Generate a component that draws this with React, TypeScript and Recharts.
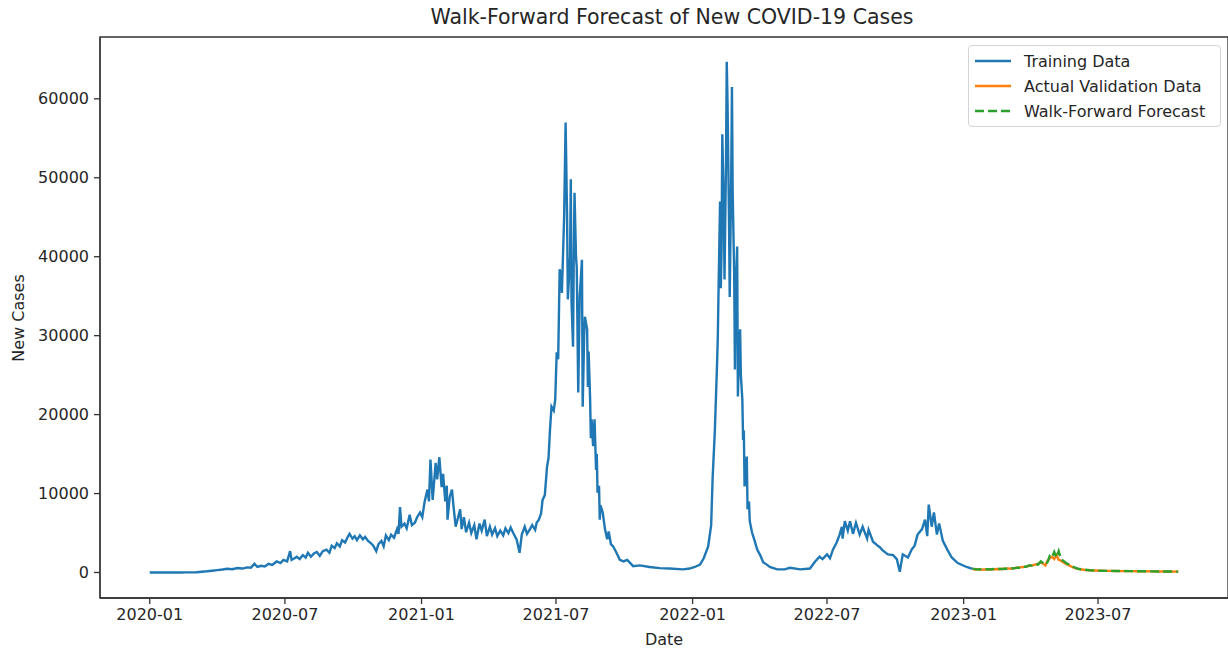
import React from 'react';
import { LineChart, Line, XAxis, YAxis, ReferenceArea } from 'recharts';

const START = Date.UTC(2020, 0, 1);
const DAY = 86400000;

// days since 2020-01-01
const trainDays = [
  0, 7, 14, 21, 28, 35, 42, 49, 56, 63, 70, 77, 84, 91, 98, 104, 111, 118, 125, 131,
  136, 141, 145, 150, 155, 160, 165, 171, 176, 180, 185, 189, 191, 195, 198, 202, 206, 210, 213, 217,
  221, 225, 229, 233, 238, 242, 245, 249, 252, 256, 259, 263, 266, 269, 273, 276, 279, 283, 287, 290,
  294, 298, 301, 305, 308, 312, 315, 318, 322, 325, 329, 333, 335, 337, 339, 343, 346, 350, 353, 357,
  360, 364, 367, 370, 374, 376, 378, 381, 385, 387, 390, 393, 395, 398, 400, 401, 404, 407, 409, 412,
  415, 418, 420, 423, 426, 430, 433, 437, 440, 444, 447, 451, 454, 458, 461, 465, 468, 472, 476, 479,
  483, 486, 490, 494, 498, 501, 505, 508, 512, 515, 519, 521, 524, 527, 529, 532, 535, 537, 539, 541,
  544, 546, 548, 550, 552, 554, 555, 558, 560, 562, 563, 566, 567, 568, 570, 571, 572, 574, 575, 577,
  579, 582, 583, 585, 586, 589, 590, 591, 593, 594, 595, 597, 599, 601, 602, 603, 605, 606, 607, 610,
  613, 616, 618, 621, 624, 628, 633, 638, 643, 651, 660, 673, 687, 700, 718, 727, 734, 741, 746, 752,
  756, 758, 761, 764, 765, 766, 768, 769, 770, 771, 773, 774, 776, 777, 778, 780, 781, 783, 784, 785,
  787, 788, 789, 791, 792, 793, 795, 796, 798, 799, 800, 801, 803, 804, 805, 807, 808, 811, 814, 818,
  822, 826, 831, 835, 845, 855, 862, 876, 889, 896, 902, 906, 912, 916, 920, 925, 929, 932, 933, 936,
  940, 943, 947, 951, 956, 960, 966, 968, 974, 979, 983, 987, 994, 1001, 1006, 1010, 1014, 1021, 1026, 1030,
  1034, 1040, 1044, 1047, 1049, 1053, 1056, 1060, 1063, 1068, 1074, 1080, 1088, 1100, 1108,
];
const trainCases = [
  0, 0, 0, 0, 0, 0, 5, 10, 20, 40, 100, 150, 220, 300, 380, 470, 420, 560, 500, 650,
  600, 1100, 700, 850, 750, 1100, 950, 1400, 1200, 1600, 1400, 2700, 1600, 1800, 2000, 1700, 2200, 1900, 2500, 2000,
  2400, 2600, 2100, 2700, 2900, 2500, 3400, 3100, 3700, 3300, 4100, 3800, 4400, 4900, 4300, 4600, 4100, 4700, 4200, 4500,
  4000, 3700, 3400, 2700, 3600, 4000, 3300, 4700, 4100, 4800, 4400, 5500, 4900, 8300, 5800, 6200, 5600, 7300, 6000, 6300,
  7000, 7600, 7000, 8900, 10500, 9000, 14300, 9200, 13900, 11800, 14600, 10800, 12500, 9000, 11000, 6700, 9600, 10500, 8400, 5800,
  6900, 8000, 5500, 7000, 5100, 6300, 5000, 6000, 4200, 6200, 5300, 6700, 4600, 5800, 4800, 5600, 4600, 5300, 4700, 5600,
  5000, 5700, 4900, 4200, 2500, 4800, 5800, 4900, 5500, 6000, 5400, 6300, 6700, 7500, 9200, 9800, 13400, 14500, 18100, 21000,
  20500, 21900, 27900, 27000, 38400, 37500, 35400, 45000, 57000, 45000, 34600, 40000, 49800, 34200, 28600, 40000, 48100, 40000, 38700, 22800,
  35000, 39600, 21000, 30000, 32400, 30800, 23500, 28000, 21900, 17000, 19400, 16000, 19400, 13000, 15000, 10100, 11000, 6700, 8500, 7600,
  5500, 4200, 5200, 3600, 3300, 2600, 1600, 1400, 1600, 800, 900, 700, 550, 500, 400, 500, 700, 1000, 1800, 3300,
  6000, 12000, 18000, 26600, 30000, 36000, 47000, 36000, 40900, 55500, 46000, 37100, 52000, 64700, 59900, 45000, 34900, 50000, 61500, 48100,
  38000, 25700, 35000, 41300, 22300, 26000, 30800, 25000, 21900, 16800, 18000, 10900, 13000, 14700, 8000, 9000, 6500, 5100, 4200, 2900,
  2200, 1300, 1000, 700, 400, 400, 600, 400, 500, 1400, 2000, 1700, 2300, 1800, 2900, 3800, 4800, 5800, 4300, 6500,
  5300, 6500, 4900, 6300, 4800, 5800, 4300, 5400, 3900, 3500, 3200, 2800, 2300, 2200, 1700, 100, 2300, 1900, 2900, 3400,
  4800, 5500, 6700, 4600, 8600, 5800, 7600, 4800, 6200, 4000, 2900, 1900, 1200, 700, 450,
];

const validDays = [
  1108, 1112, 1116, 1120, 1124, 1128, 1132, 1136, 1140, 1144, 1148, 1152, 1156, 1160, 1164, 1168, 1172, 1176, 1180, 1184,
  1188, 1192, 1196, 1200, 1203, 1206, 1209, 1212, 1215, 1218, 1221, 1224, 1227, 1230, 1234, 1238, 1242, 1246, 1250, 1255,
  1260, 1266, 1272, 1280, 1290, 1300, 1310, 1320, 1330, 1340, 1350, 1360, 1370, 1385,
];
const validActual = [
  450, 380, 420, 350, 400, 380, 420, 400, 450, 420, 480, 450, 520, 480, 550, 600, 650, 700, 750, 850,
  900, 1000, 1100, 1300, 1100, 900, 1500, 1800, 2000, 1700, 2200, 1600, 1500, 1300, 1100, 900, 700, 550, 450, 380,
  320, 280, 250, 220, 200, 190, 180, 170, 160, 150, 140, 130, 120, 110,
];
const forecastCases = [
  500, 420, 380, 430, 360, 420, 390, 440, 410, 470, 430, 500, 470, 540, 520, 620, 600, 740, 720, 900,
  880, 1050, 1000, 1400, 1200, 1000, 1300, 2100, 1900, 2600, 1900, 2700, 1700, 1500, 1200, 1000, 800, 600, 480, 400,
  340, 290, 260, 230, 210, 195, 185, 175, 165, 155, 145, 135, 125, 115,
];

const xTickLabels = ['2020-01', '2020-07', '2021-01', '2021-07', '2022-01', '2022-07', '2023-01', '2023-07'];
const yTicks = [0, 10000, 20000, 30000, 40000, 50000, 60000];

const dayOf = (label: string) => {
  const [y, m] = label.split('-').map(Number);
  return (Date.UTC(y, m - 1, 1) - START) / DAY;
};
const xTicks = xTickLabels.map(dayOf);
const labelFor = (d: number) => xTickLabels[xTicks.indexOf(d)] ?? '';

const trainData = trainDays.map((day, i) => ({ day, cases: trainCases[i] }));
const validData = validDays.map((day, i) => ({ day, actual: validActual[i], forecast: forecastCases[i] }));

const X_DOMAIN: [number, number] = [-67, 1452];
const Y_DOMAIN: [number, number] = [-3230, 67830];

const BLUE = '#1f77b4';
const ORANGE = '#ff7f0e';
const GREEN = '#2ca02c';
const FONT = '"DejaVu Sans", Verdana, sans-serif';
const INK = '#262626';

const legendItems = [
  { name: 'Training Data', color: BLUE, dash: undefined as string | undefined },
  { name: 'Actual Validation Data', color: ORANGE, dash: undefined },
  { name: 'Walk-Forward Forecast', color: GREEN, dash: '9 4' },
];

const tickStyle = { fontSize: 16, fill: INK, fontFamily: FONT };
const spine = { stroke: '#333', strokeWidth: 1.3 };

export default function App() {
  return (
    <div style={{ position: 'absolute', left: 0, top: 0, width: 1228, height: 649, background: '#fff', fontFamily: FONT, color: INK, overflow: 'hidden' }}>
      <div style={{ position: 'absolute', left: 100, width: 1144, top: 5, textAlign: 'center', fontSize: 20.5 }}>
        Walk-Forward Forecast of New COVID-19 Cases
      </div>
      <div style={{ position: 'absolute', left: 100, width: 1128, top: 632, height: 16, lineHeight: '16px', textAlign: 'center', fontSize: 16 }}>
        Date
      </div>
      <div
        style={{
          position: 'absolute', left: 18, top: 318, fontSize: 16, whiteSpace: 'nowrap',
          transform: 'translate(-50%, -50%) rotate(-90deg)',
        }}
      >
        New Cases
      </div>

      <LineChart width={1228} height={649} margin={{ top: 37, right: 0, left: 0, bottom: 0 }}>
        <XAxis
          dataKey="day"
          type="number"
          domain={X_DOMAIN}
          allowDataOverflow
          ticks={xTicks}
          tickFormatter={labelFor}
          height={51}
          tick={tickStyle}
          tickSize={6}
          tickMargin={5}
          axisLine={spine}
          tickLine={spine}
        />
        <YAxis
          type="number"
          domain={Y_DOMAIN}
          allowDataOverflow
          ticks={yTicks}
          width={100}
          tick={tickStyle}
          tickSize={6}
          tickMargin={5}
          axisLine={spine}
          tickLine={spine}
        />
        <ReferenceArea
          x1={X_DOMAIN[0]}
          x2={X_DOMAIN[1]}
          y1={Y_DOMAIN[0]}
          y2={Y_DOMAIN[1]}
          fill="none"
          fillOpacity={0}
          stroke="#333"
          strokeWidth={1.3}
          ifOverflow="visible"
        />
        <Line data={trainData} dataKey="cases" stroke={BLUE} strokeWidth={2.4} dot={false} isAnimationActive={false} />
        <Line data={validData} dataKey="actual" stroke={ORANGE} strokeWidth={2.4} dot={false} isAnimationActive={false} />
        <Line data={validData} dataKey="forecast" stroke={GREEN} strokeWidth={2.4} strokeDasharray="9 4" dot={false} isAnimationActive={false} />
      </LineChart>

      <div
        style={{
          position: 'absolute', left: 968, top: 45, width: 253, height: 82, boxSizing: 'border-box',
          border: '1px solid #d4d4d4', borderRadius: 4, background: 'rgba(255,255,255,0.85)', fontSize: 16,
        }}
      >
        {legendItems.map((item, i) => (
          <div key={item.name} style={{ position: 'absolute', left: 6, top: 4 + i * 25, height: 22, display: 'flex', alignItems: 'center' }}>
            <svg width={36} height={6} style={{ marginRight: 13 }}>
              <line x1={0} y1={3} x2={36} y2={3} stroke={item.color} strokeWidth={2.4} strokeDasharray={item.dash} />
            </svg>
            <span style={{ whiteSpace: 'nowrap' }}>{item.name}</span>
          </div>
        ))}
      </div>
    </div>
  );
}
